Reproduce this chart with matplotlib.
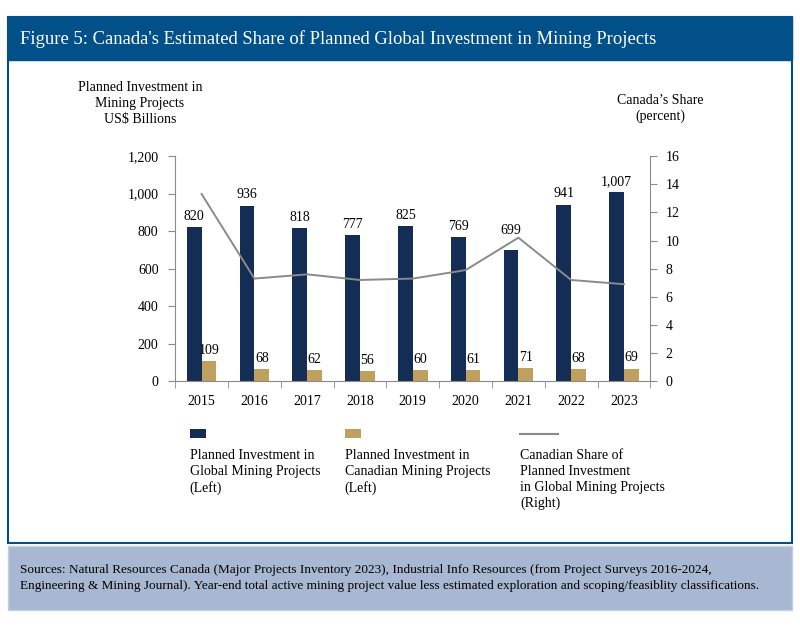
import matplotlib.pyplot as plt
import matplotlib.patches as mpatches
from matplotlib.lines import Line2D
from matplotlib.ticker import FuncFormatter, MultipleLocator
import numpy as np

# data
years = ["2015", "2016", "2017", "2018", "2019", "2020", "2021", "2022", "2023"]
global_inv = [820, 936, 818, 777, 825, 769, 699, 941, 1007]
canada_inv = [109, 68, 62, 56, 60, 61, 71, 68, 69]
canada_share = [13.3, 7.3, 7.6, 7.2, 7.3, 7.9, 10.2, 7.2, 6.9]

NAVY = "#142d55"
GOLD = "#bfa05e"
GREY = "#8a8a8a"
BLUE = "#02508a"
FOOT = "#a9b8d2"

plt.rcParams["font.family"] = ["Liberation Serif", "DejaVu Serif"]

fig = plt.figure(figsize=(8, 6.39), dpi=100)

# frame, title banner and footer (behind the axes)
fig.patches.append(mpatches.Rectangle((0.01, 0.150), 0.98, 0.823, transform=fig.transFigure,
                                      facecolor="white", edgecolor=BLUE, linewidth=1.5, zorder=-2))
fig.patches.append(mpatches.Rectangle((0.01, 0.906), 0.98, 0.067, transform=fig.transFigure,
                                      facecolor=BLUE, edgecolor=BLUE, linewidth=1, zorder=-1))
fig.patches.append(mpatches.Rectangle((0.01, 0.045), 0.98, 0.100, transform=fig.transFigure,
                                      facecolor=FOOT, edgecolor="#c4cfe0", linewidth=1, zorder=-2))
fig.text(0.025, 0.939, "Figure 5: Canada's Estimated Share of Planned Global Investment in Mining Projects",
         color="white", fontsize=13.4, va="center", ha="left")
fig.text(0.025, 0.096,
         "Sources: Natural Resources Canada (Major Projects Inventory 2023), Industrial Info Resources (from Project Surveys 2016-2024,\n"
         "Engineering & Mining Journal). Year-end total active mining project value less estimated exploration and scoping/feasiblity classifications.",
         fontsize=9.5, va="center", ha="left", linespacing=1.45)

# axis titles
fig.text(0.175, 0.838, "Planned Investment in\nMining Projects\nUS$ Billions",
         ha="center", va="center", fontsize=10, linespacing=1.3)
fig.text(0.825, 0.830, "Canada\u2019s Share\n(percent)",
         ha="center", va="center", fontsize=10, linespacing=1.3)

ax = fig.add_axes([0.219, 0.403, 0.594, 0.353])
ax.patch.set_alpha(0)
x = np.arange(len(years))
w = 0.28
ax.bar(x - w / 2, global_inv, w, color=NAVY, zorder=2)
ax.bar(x + w / 2, canada_inv, w, color=GOLD, zorder=2)
for i in range(len(years)):
    # 2021 label lifted above the share line, as in the original
    off = 70 if years[i] == "2021" else 22
    ax.text(x[i] - w / 2, global_inv[i] + off, f"{global_inv[i]:,}", ha="center", va="bottom", fontsize=10)
    ax.text(x[i] + w / 2, canada_inv[i] + 22, f"{canada_inv[i]}", ha="center", va="bottom", fontsize=10)

ax.set_xlim(-0.5, len(years) - 0.5)
ax.set_ylim(0, 1200)
ax.yaxis.set_major_locator(MultipleLocator(200))
ax.yaxis.set_major_formatter(FuncFormatter(lambda v, p: f"{int(v):,}"))
ax.set_xticks(x)
ax.set_xticklabels(years)
ax.set_xticks(np.arange(-0.5, len(years)), minor=True)
ax.tick_params(axis="x", which="major", length=0, pad=10, labelsize=10)
ax.tick_params(axis="x", which="minor", length=5, color=GREY, direction="out")
ax.tick_params(axis="y", length=5, color=GREY, labelsize=10, pad=7)
for s in ["top", "right"]:
    ax.spines[s].set_visible(False)
for s in ["left", "bottom"]:
    ax.spines[s].set_color(GREY)

ax2 = ax.twinx()
ax2.plot(x, canada_share, color=GREY, linewidth=1.4, zorder=3)
ax2.set_ylim(0, 16)
ax2.yaxis.set_major_locator(MultipleLocator(2))
ax2.tick_params(axis="y", length=5, color=GREY, labelsize=10, pad=6)
for s in ["top", "left", "bottom"]:
    ax2.spines[s].set_visible(False)
ax2.spines["right"].set_color(GREY)

# legend built by hand: marker on top, text underneath
leg_x = [0.237, 0.431, 0.650]
leg_y = 0.321
fig.patches.append(mpatches.Rectangle((leg_x[0], leg_y - 0.006), 0.020, 0.013,
                                      transform=fig.transFigure, facecolor=NAVY))
fig.patches.append(mpatches.Rectangle((leg_x[1], leg_y - 0.006), 0.020, 0.013,
                                      transform=fig.transFigure, facecolor=GOLD))
fig.lines.append(Line2D([leg_x[2], leg_x[2] + 0.047], [leg_y, leg_y],
                        transform=fig.transFigure, color=GREY, linewidth=1.5))
leg_texts = ["Planned Investment in\nGlobal Mining Projects\n(Left)",
             "Planned Investment in\nCanadian Mining Projects\n(Left)",
             "Canadian Share of\nPlanned Investment\nin Global Mining Projects\n(Right)"]
for lx, t in zip(leg_x, leg_texts):
    fig.text(lx, 0.298, t, ha="left", va="top", fontsize=10, linespacing=1.3)

fig.savefig("out.png", dpi=100)
